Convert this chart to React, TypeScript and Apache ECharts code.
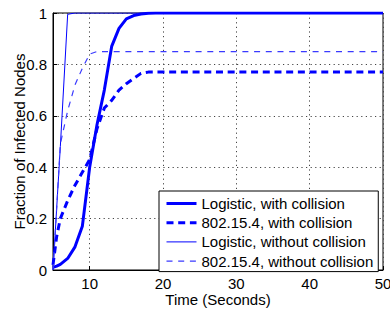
import React, { useEffect, useRef } from "react";
import * as echarts from "echarts";

const time = [5, 5.5, 6, 7, 8, 9, 10, 11, 12, 13, 14, 15, 16, 17, 18, 19, 20, 30, 40, 50];
const logisticWith = [0.01, 0.015, 0.022, 0.045, 0.09, 0.17, 0.4, 0.565, 0.7, 0.87, 0.94, 0.977, 0.99, 0.996, 0.999, 1, 1, 1, 1, 1];
const ieeeWith = [0.02, 0.13, 0.2, 0.27, 0.33, 0.38, 0.43, 0.55, 0.63, 0.66, 0.7, 0.725, 0.745, 0.765, 0.77, 0.77, 0.77, 0.77, 0.77, 0.77];
const logisticWithout = [0, 0.24, 0.48, 0.995, 1, 1, 1, 1, 1, 1, 1, 1, 1, 1, 1, 1, 1, 1, 1, 1];
const ieeeWithout = [0, 0.24, 0.49, 0.62, 0.72, 0.785, 0.84, 0.85, 0.85, 0.85, 0.85, 0.85, 0.85, 0.85, 0.85, 0.85, 0.85, 0.85, 0.85, 0.85];

const seriesNames = [
  "Logistic, with collision",
  "802.15.4, with collision",
  "Logistic, without collision",
  "802.15.4, without collision",
];
const xTicks = [10, 20, 30, 40, 50];

const FONT = "Liberation Sans";
const BLUE = "#0000ff";

const pairs = (ys: number[]) => time.map((t, i) => [t, ys[i]]);

export default function App() {
  const ref = useRef<HTMLDivElement>(null);
  useEffect(() => {
    if (!ref.current) return;
    const chart = echarts.init(ref.current, null, { renderer: "svg" });
    const styles = [
      { width: 3, type: "solid" as any, color: BLUE },
      { width: 3, type: [7, 4.7] as any, color: BLUE },
      { width: 1, type: "solid" as any, color: BLUE },
      { width: 1.2, type: [6, 5.7] as any, color: "#3a3aff" },
    ];
    const datasets = [logisticWith, ieeeWith, logisticWithout, ieeeWithout];
    chart.setOption({
      animation: false,
      backgroundColor: "#fff",
      textStyle: { fontFamily: FONT },
      grid: {
        left: 53,
        right: 7,
        top: 13,
        bottom: 39,
        containLabel: false,
        outerBoundsMode: "none",
        show: true,
        borderColor: "#000",
        borderWidth: 1,
        backgroundColor: "transparent",
      },
      legend: {
        orient: "vertical",
        left: 159,
        top: 191,
        padding: [5, 5, 3, 6],
        itemWidth: 30,
        itemHeight: 14,
        itemGap: 4.2,
        borderColor: "#000",
        borderWidth: 1,
        borderRadius: 0,
        backgroundColor: "#fff",
        textStyle: { fontSize: 15, fontFamily: FONT, color: "#000", lineHeight: 14 },
        data: seriesNames.map((n, i) => ({
          name: n,
          itemStyle: { opacity: 0 },
          lineStyle: { color: styles[i].color, width: styles[i].width, type: styles[i].type },
        })),
      },
      xAxis: {
        type: "value",
        min: 5,
        max: 50,
        name: "Time (Seconds)",
        nameLocation: "middle",
        nameGap: 22,
        nameMoveOverlap: false,
        nameTextStyle: { fontSize: 15, color: "#000", fontFamily: FONT, lineHeight: 15 },
        axisLine: { show: true, lineStyle: { color: "#000", width: 1 } },
        axisTick: { show: true, inside: true, length: 4, customValues: xTicks, lineStyle: { color: "#000" } },
        axisLabel: { customValues: xTicks, fontSize: 15, color: "#000", margin: 7, fontFamily: FONT, lineHeight: 13 },
        splitLine: { show: true, lineStyle: { color: "#444", width: 1, type: [1.2, 3.4] } },
      },
      yAxis: {
        type: "value",
        min: 0,
        max: 1,
        interval: 0.2,
        name: "Fraction of Infected Nodes",
        nameLocation: "middle",
        nameGap: 26,
        nameMoveOverlap: false,
        nameTextStyle: { fontSize: 15, color: "#000", fontFamily: FONT, lineHeight: 15 },
        axisLine: { show: true, lineStyle: { color: "#000", width: 1 } },
        axisTick: { show: true, inside: true, length: 4, lineStyle: { color: "#000" } },
        axisLabel: { fontSize: 15, color: "#000", margin: 6, fontFamily: FONT },
        splitLine: { show: true, lineStyle: { color: "#444", width: 1, type: [1.2, 3.4] } },
      },
      series: datasets.map((d, i) => ({
        name: seriesNames[i],
        type: "line",
        data: pairs(d),
        symbol: "none",
        showSymbol: false,
        smooth: false,
        lineStyle: { color: styles[i].color, width: styles[i].width, type: styles[i].type },
        itemStyle: { color: styles[i].color },
        z: 3,
      })),
    });
    return () => chart.dispose();
  }, []);
  return (
    <div
      ref={ref}
      style={{ position: "fixed", left: 0, top: 0, width: 390, height: 309, background: "#fff" }}
    />
  );
}
